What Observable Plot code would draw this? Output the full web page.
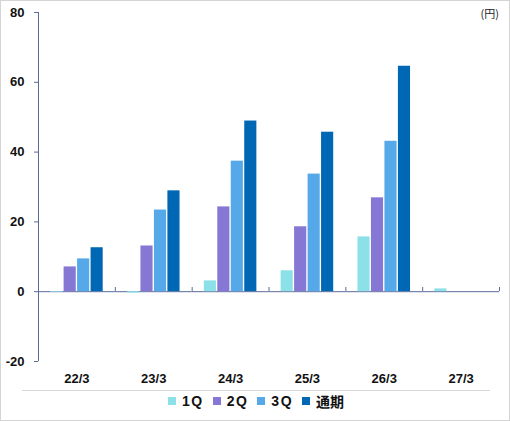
<!DOCTYPE html>
<html>
<head>
<meta charset="utf-8">
<script src="https://cdn.jsdelivr.net/npm/d3@7"></script>
<script src="https://cdn.jsdelivr.net/npm/@observablehq/plot@0.6"></script>
<style>
  html, body { margin: 0; padding: 0; background: #fff; }
  #wrap { position: relative; width: 510px; height: 421px; box-sizing: border-box; border: 1px solid #d4d4d4; font-family: "Liberation Sans", Arial, sans-serif; }
  #unit { position: absolute; right: 10px; top: 4px; font-size: 11px; font-family: "Noto Sans CJK JP", sans-serif; color: #222; }
  #legend { margin-left: 21px; width: 468px; border-top: 1px solid #d8d8d8; display: flex; justify-content: center; align-items: center; gap: 9px; padding-top: 1px; font-weight: bold; font-size: 14px; line-height: 18px; color: #111; }
  .item { display: flex; align-items: center; gap: 6px; }
  .sw { width: 8px; height: 8px; display: inline-block; }
  .lbl { letter-spacing: 1.5px; }
  .lbl.jp { letter-spacing: 0; font-family: "Noto Sans CJK JP", sans-serif; }
  svg { display: block; }
  #chart svg text { font-size: 13px; font-weight: bold; }
</style>
</head>
<body>
<div id="wrap">
  <div id="chart"></div>
  <div id="unit">(円)</div>
  <div id="legend"></div>
</div>
<script>
const categories = ["22/3", "23/3", "24/3", "25/3", "26/3", "27/3"];
const seriesNames = ["1Q", "2Q", "3Q", "通期"];
const q1 = [-0.2, -0.4, 3.1, 6.0, 15.7, 0.8];
const q2 = [7.1, 13.1, 24.3, 18.6, 26.9, null];
const q3 = [9.4, 23.4, 37.4, 33.7, 43.1, null];
const full = [12.6, 28.9, 48.9, 45.7, 64.6, null];
const yTicks = [-20, 0, 20, 40, 60, 80];
const colors = ["#8ce0e8", "#8577d3", "#56a9e8", "#0067b5"];

const seriesValues = [q1, q2, q3, full];
const data = [];
categories.forEach((c, i) => {
  seriesNames.forEach((s, j) => {
    const v = seriesValues[j][i];
    if (v != null) data.push({cat: c, series: s, value: v});
  });
});

const W = 508, ML = 37, MR = 10, MT = 11, MB = 29, H = 389;
const fw = (W - ML - MR) / categories.length;
const axisColor = "#5b6b99";

const chart = Plot.plot({
  width: W,
  height: H,
  marginLeft: ML,
  marginRight: MR,
  marginTop: MT,
  marginBottom: MB,
  style: {fontFamily: "'Liberation Sans', Arial, sans-serif", color: "#111", background: "#fff"},
  fx: {domain: categories, padding: 0, round: false, label: null},
  x: {domain: seriesNames, paddingInner: 0.1, paddingOuter: 0.9, round: false, axis: null},
  y: {domain: [-20, 80], label: null},
  color: {domain: seriesNames, range: colors},
  marks: [
    Plot.axisY({ticks: yTicks, tickSize: 4, tickPadding: 10, tickFormat: d => String(d), stroke: axisColor, fill: "#111", fontWeight: "bold", fontSize: 13, label: null}),
    Plot.axisFx({anchor: "bottom", tickSize: 0, tickPadding: 12, fontWeight: "bold", fontSize: 13, label: null}),
    Plot.ruleY([0], {stroke: axisColor, strokeWidth: 1}),
    Plot.barY(data, {fx: "cat", x: "series", y: "value", fill: "series"}),
    Plot.ruleX([categories[0]], {fx: d => d, x: null, dx: -fw / 2, y1: -20, y2: 80, stroke: axisColor}),
    Plot.ruleX(categories, {fx: d => d, x: null, dx: fw / 2, y1: 0, y2: 1.2, stroke: axisColor})
  ]
});
document.getElementById("chart").appendChild(chart);

const legend = document.getElementById("legend");
seriesNames.forEach((s, j) => {
  const item = document.createElement("div");
  item.className = "item";
  const sw = document.createElement("span");
  sw.className = "sw";
  sw.style.background = colors[j];
  const lbl = document.createElement("span");
  lbl.className = "lbl" + (j === 3 ? " jp" : "");
  lbl.textContent = s;
  item.appendChild(sw);
  item.appendChild(lbl);
  legend.appendChild(item);
});
</script>
</body>
</html>
